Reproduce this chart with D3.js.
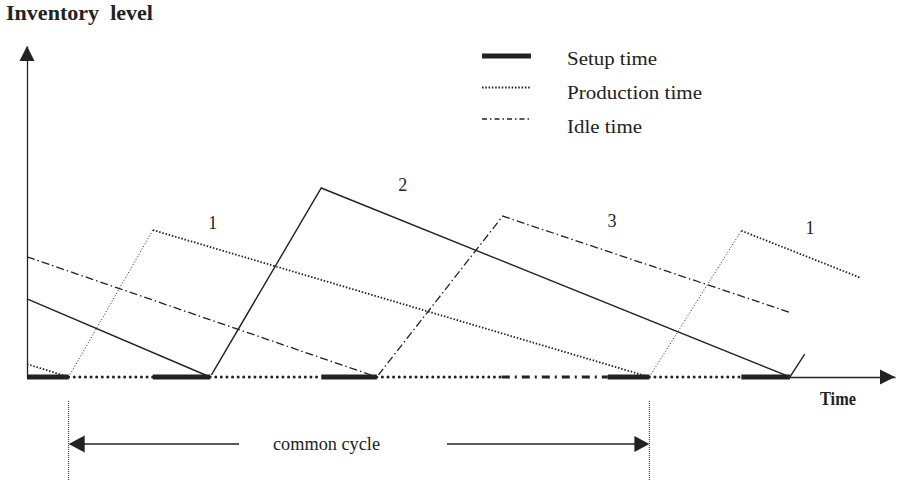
<!DOCTYPE html>
<html>
<head>
<meta charset="utf-8">
<script src="https://cdn.jsdelivr.net/npm/d3@7"></script>
<style>
  body { margin: 0; background: #fff; }
  text { font-family: "Liberation Serif", "Times New Roman", serif; fill: #222; }
</style>
</head>
<body>
<svg id="drawing_region"></svg>
<script>
// time (x) and inventory level (y) in arbitrary units
const product1 = [[0, 3.9], [4.8, 0], [14.5, 44.4], [71.7, 0], [82.3, 44.2], [96.0, 30.0]];
const product2 = [[0, 23.6], [21.1, 0], [33.9, 57.1], [87.9, 0], [89.6, 6.9]];
const product3 = [[0, 36.3], [40.3, 0], [54.8, 48.6], [87.8, 19.6]];

// what the machine is doing along the time axis
const phaseBounds = [0, 4.8, 14.5, 21.1, 33.9, 40.3, 54.7, 66.9, 71.7, 82.3, 87.9];
const phaseKinds = ['setup', 'production', 'setup', 'production', 'setup', 'production',
                    'idle', 'setup', 'production', 'setup'];

const productLabels = ['1', '2', '3', '1'];
const labelTimes = [21.4, 43.3, 67.4, 90.2];
const labelLevels = [46.5, 58, 47, 45];

const legendNames = ['Setup time', 'Production time', 'Idle time'];
const legendKinds = ['setup', 'production', 'idle'];

const cycleStart = 4.8, cycleEnd = 71.7;

const width = 897, height = 483;
const svg = d3.select('#drawing_region')
    .attr('width', width)
    .attr('height', height);

const x = d3.scaleLinear().domain([0, 100]).range([27, 895]);
const y = d3.scaleLinear().domain([0, 100]).range([377, 46]);

const ink = '#222';

// axes without ticks, arrow heads at the ends
svg.append('g')
    .attr('transform', `translate(0, ${y(0)})`)
    .call(d3.axisBottom(x).ticks(0).tickSizeOuter(0))
    .select('.domain').attr('stroke', ink).attr('stroke-width', 1.3);
svg.append('g')
    .attr('transform', `translate(${x(0)}, 0)`)
    .call(d3.axisLeft(y).ticks(0).tickSizeOuter(0))
    .select('.domain').attr('stroke', ink).attr('stroke-width', 1.3);

svg.append('path')
    .attr('d', `M${x(100)},${y(0)} l-15,-7.5 v15 z`)
    .attr('fill', ink);
svg.append('path')
    .attr('d', `M${x(0)},${y(100)} l-7.5,15 h15 z`)
    .attr('fill', ink);

// inventory curves
const line = d3.line().x(d => x(d[0])).y(d => y(d[1]));

// product 1: dotted, rising parts drawn with finer dots
d3.pairs(product1).forEach(([a, b]) => {
    const rising = b[1] > a[1];
    svg.append('path')
        .attr('d', line([a, b]))
        .attr('fill', 'none')
        .attr('stroke', ink)
        .attr('stroke-width', rising ? 1 : 1.8)
        .attr('stroke-dasharray', rising ? '1,2' : '1.5,1.8');
});

svg.append('path')
    .attr('d', line(product2))
    .attr('fill', 'none')
    .attr('stroke', ink)
    .attr('stroke-width', 1.4);

svg.append('path')
    .attr('d', line(product3))
    .attr('fill', 'none')
    .attr('stroke', ink)
    .attr('stroke-width', 1.3)
    .attr('stroke-dasharray', '8,3,1.5,3');

// phases along the base line (the plain axis only shows after the last phase)
svg.append('path')
    .attr('d', line([[phaseBounds[0], 0], [phaseBounds[phaseBounds.length - 1], 0]]))
    .attr('stroke', '#fff')
    .attr('stroke-width', 4);

const phaseStyle = {
    setup: { w: 5, dash: null, cap: 'butt' },
    production: { w: 3, dash: '0,5.6', cap: 'round' },
    idle: { w: 2.8, dash: '8,5,2,5', cap: 'butt' }
};
phaseKinds.forEach((k, i) => {
    const s = phaseStyle[k];
    svg.append('path')
        .attr('d', line([[phaseBounds[i], 0], [phaseBounds[i + 1], 0]]))
        .attr('stroke', ink)
        .attr('stroke-width', s.w)
        .attr('stroke-dasharray', s.dash)
        .attr('stroke-linecap', s.cap);
});

// product numbers
svg.selectAll('.plabel')
    .data(productLabels)
    .join('text')
    .attr('class', 'plabel')
    .attr('x', (d, i) => x(labelTimes[i]))
    .attr('y', (d, i) => y(labelLevels[i]) + 6)
    .attr('text-anchor', 'middle')
    .attr('font-size', 18)
    .text(d => d);

// legend
const legendStyle = {
    setup: { w: 5, dash: null },
    production: { w: 1.8, dash: '1.5,1.8' },
    idle: { w: 1.3, dash: '5,3,1.5,3' }
};
const legendWidths = [90, 135, 75];
const legend = svg.append('g');
legendNames.forEach((name, i) => {
    const s = legendStyle[legendKinds[i]];
    const ly = 56 + i * 31.5;
    legend.append('line')
        .attr('x1', 482).attr('x2', 531)
        .attr('y1', ly).attr('y2', ly)
        .attr('stroke', ink)
        .attr('stroke-width', s.w)
        .attr('stroke-dasharray', s.dash);
    legend.append('text')
        .attr('x', 567)
        .attr('y', 65 + i * 34)
        .attr('font-size', 18)
        .attr('textLength', legendWidths[i])
        .attr('lengthAdjust', 'spacingAndGlyphs')
        .text(name);
});

// titles
svg.append('text')
    .attr('x', 6).attr('y', 20)
    .attr('font-size', 20)
    .attr('font-weight', 'bold')
    .attr('textLength', 147)
    .attr('lengthAdjust', 'spacingAndGlyphs')
    .style('white-space', 'pre')
    .text('Inventory  level');

svg.append('text')
    .attr('x', 820).attr('y', 405)
    .attr('font-size', 19)
    .attr('font-weight', 'bold')
    .attr('textLength', 36)
    .attr('lengthAdjust', 'spacingAndGlyphs')
    .text('Time');

// common cycle annotation
const cy = 444;
[cycleStart, cycleEnd].forEach(t => {
    svg.append('line')
        .attr('x1', x(t)).attr('x2', x(t))
        .attr('y1', 401).attr('y2', 480)
        .attr('stroke', ink)
        .attr('stroke-width', 1)
        .attr('stroke-dasharray', '1,1');
});
svg.append('line')
    .attr('x1', x(cycleStart) + 10).attr('x2', 239)
    .attr('y1', cy).attr('y2', cy)
    .attr('stroke', ink).attr('stroke-width', 1.3);
svg.append('path')
    .attr('d', `M${x(cycleStart)},${cy} l16,-8.5 v17 z`)
    .attr('fill', ink);
svg.append('line')
    .attr('x1', 447).attr('x2', x(cycleEnd) - 10)
    .attr('y1', cy).attr('y2', cy)
    .attr('stroke', ink).attr('stroke-width', 1.3);
svg.append('path')
    .attr('d', `M${x(cycleEnd)},${cy} l-15,-8 v16 z`)
    .attr('fill', ink);

svg.append('text')
    .attr('x', 273).attr('y', cy + 6)
    .attr('font-size', 18)
    .attr('textLength', 107)
    .attr('lengthAdjust', 'spacingAndGlyphs')
    .text('common cycle');
</script>
</body>
</html>
